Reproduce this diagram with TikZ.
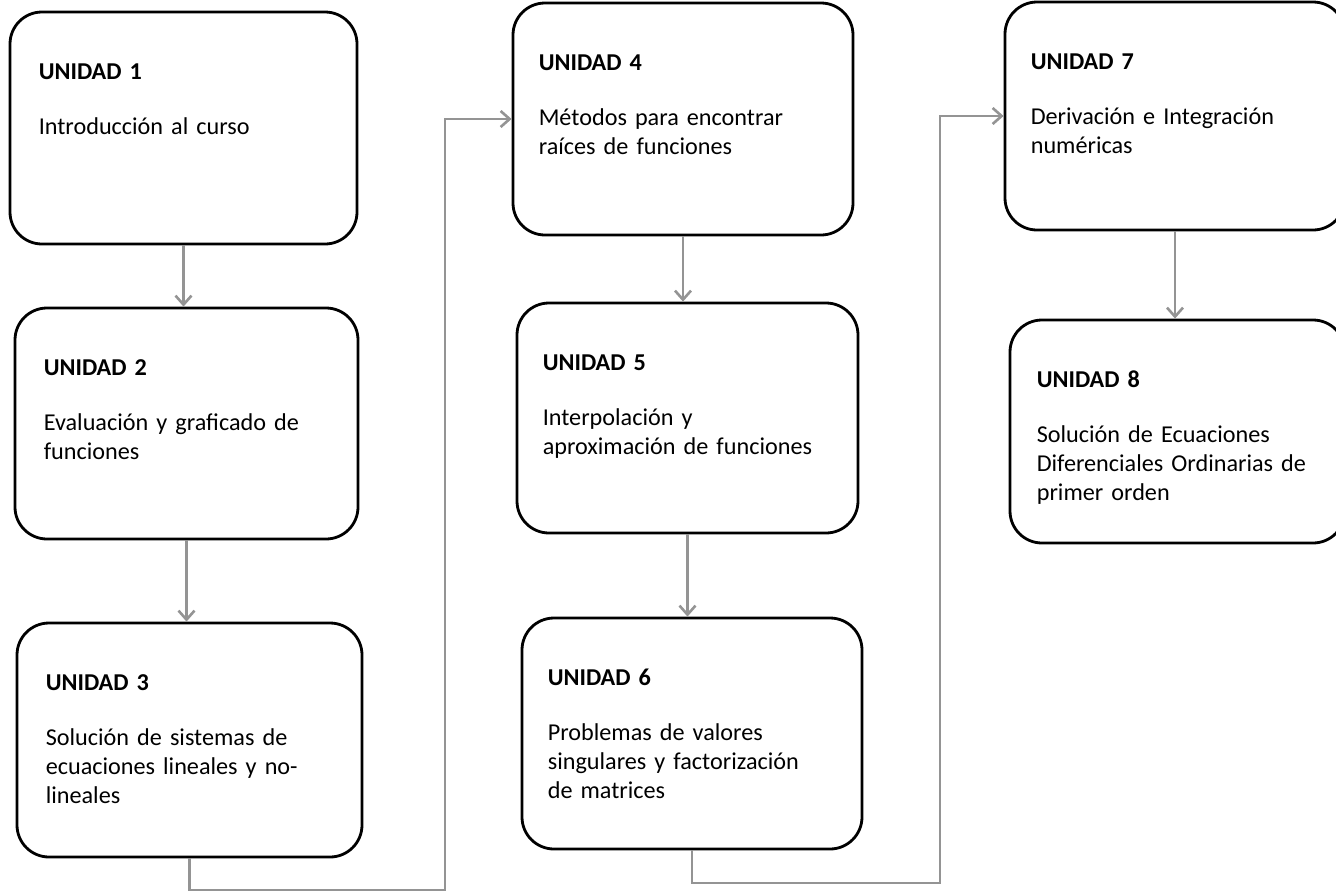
\documentclass[tikz,border=0pt]{standalone}
\usepackage{fontspec}
\setmainfont{Carlito}
\usepackage{tikz}
\usetikzlibrary{arrows.meta}

\tikzset{
  unitbox/.style={draw=black, line width=2.8pt, rounded corners=32pt, inner sep=0pt},
  unittext/.style={anchor=base west, align=left, text width=305pt, inner sep=0pt,
    font=\fontsize{24.2}{29}\selectfont},
  link/.style={draw=black!42, line width=2.6pt,
    -{Straight Barb[length=9pt, width=16pt, line width=2.6pt]}}
}

\begin{document}
\begin{tikzpicture}[x=1pt, y=-1pt]
  % Page size of the reference
  \useasboundingbox (0,0) rectangle (1336,895);
  \clip (0,0) rectangle (1336,895);

  % Draw the unit boxes
  \node[unitbox, minimum width=347pt, minimum height=232pt] (u1) at (183.5,128) {};
  \node[unitbox, minimum width=343pt, minimum height=231pt] (u2) at (186.5,423.5) {};
  \node[unitbox, minimum width=345pt, minimum height=234pt] (u3) at (189.5,740) {};
  \node[unitbox, minimum width=340pt, minimum height=232pt] (u4) at (683,119) {};
  \node[unitbox, minimum width=341pt, minimum height=230pt] (u5) at (687.5,418) {};
  \node[unitbox, minimum width=340pt, minimum height=231pt] (u6) at (692,733.5) {};
  \node[unitbox, minimum width=340pt, minimum height=228pt] (u7) at (1175,116) {};
  \node[unitbox, minimum width=335pt, minimum height=223pt] (u8) at (1177.5,431.5) {};

  % Label the units
  \node[unittext] (u1t) at ([shift={(30,69)}]u1.north west)
    {\textbf{UNIDAD 1}\\[26pt]Introducción al curso};
  \node[unittext] (u2t) at ([shift={(30,69)}]u2.north west)
    {\textbf{UNIDAD 2}\\[26pt]Evaluación y graficado de\\funciones};
  \node[unittext] (u3t) at ([shift={(30,69)}]u3.north west)
    {\textbf{UNIDAD 3}\\[26pt]Solución de sistemas de\\ecuaciones lineales y no-\\lineales};
  \node[unittext] (u4t) at ([shift={(27,69)}]u4.north west)
    {\textbf{UNIDAD 4}\\[26pt]Métodos para encontrar\\raíces de funciones};
  \node[unittext] (u5t) at ([shift={(27,69)}]u5.north west)
    {\textbf{UNIDAD 5}\\[26pt]Interpolación y\\aproximación de funciones};
  \node[unittext] (u6t) at ([shift={(27,69)}]u6.north west)
    {\textbf{UNIDAD 6}\\[26pt]Problemas de valores\\singulares y factorización\\de matrices};
  \node[unittext] (u7t) at ([shift={(27,69)}]u7.north west)
    {\textbf{UNIDAD 7}\\[26pt]Derivación e Integración\\numéricas};
  \node[unittext] (u8t) at ([shift={(28,69)}]u8.north west)
    {\textbf{UNIDAD 8}\\[26pt]Solución de Ecuaciones\\Diferenciales Ordinarias de\\primer orden};

  % Turning points of the long connectors
  \coordinate (c34) at (445,890);
  \coordinate (c67) at (940,883);

  % Draw the connectors
  \draw[link] (u1.south) -- (u1.south |- u2.north);
  \draw[link] (u2.south) -- (u2.south |- u3.north);
  \draw[link] (u3.south) |- (c34) |- (u4.west);
  \draw[link] (u4.south) -- (u4.south |- u5.north);
  \draw[link] (u5.south) -- (u5.south |- u6.north);
  \draw[link] (u6.south) |- (c67) |- (u7.west);
  \draw[link] (u7.south) -- (u7.south |- u8.north);
\end{tikzpicture}
\end{document}
